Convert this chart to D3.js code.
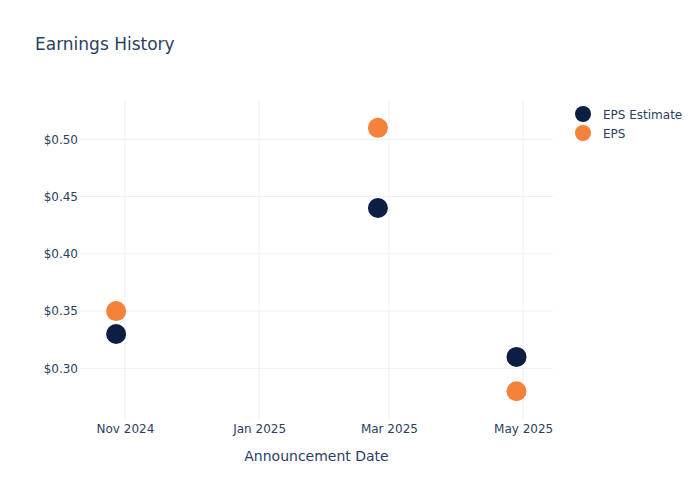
<!DOCTYPE html>
<html>
<head>
<meta charset="utf-8">
<script src="https://cdn.jsdelivr.net/npm/d3@7"></script>
<style>
  body { margin: 0; background: #fff; }
  svg { font-family: "DejaVu Sans", "Open Sans", sans-serif; }
</style>
</head>
<body>
<svg id="chart" width="700" height="500"></svg>
<script>
// announcement dates and EPS values
const dates = ["2024-10-28", "2025-02-24", "2025-04-28"];
const epsEstimate = [0.33, 0.44, 0.31];
const epsActual = [0.35, 0.51, 0.28];
const xTicks = ["2024-11-01", "2025-01-01", "2025-03-01", "2025-05-01"];
const yTicks = [0.30, 0.35, 0.40, 0.45, 0.50];
const seriesNames = ["EPS Estimate", "EPS"];
const seriesColors = ["#0c1f42", "#f5813a"];

const width = 700;
const height = 500;
const margin = { top: 100, right: 147, bottom: 80, left: 80 };
const textColor = "#2a3f5f";
const gridColor = "#ebf0f8";

const svg = d3.select("#chart");
const parse = d3.utcParse("%Y-%m-%d");

const xScale = d3.scaleUtc()
  .domain([Date.UTC(2024, 9, 11, 14), Date.UTC(2025, 4, 14, 14)])
  .range([margin.left, width - margin.right]);

const yScale = d3.scaleLinear()
  .domain([0.2549, 0.5343])
  .range([height - margin.bottom, margin.top]);

// grid lines
svg.append("g")
  .selectAll("line")
  .data(xTicks.map(parse))
  .enter()
  .append("line")
  .attr("x1", d => xScale(d))
  .attr("x2", d => xScale(d))
  .attr("y1", margin.top)
  .attr("y2", height - margin.bottom)
  .attr("stroke", gridColor)
  .attr("stroke-width", 1);

svg.append("g")
  .selectAll("line")
  .data(yTicks)
  .enter()
  .append("line")
  .attr("x1", margin.left)
  .attr("x2", width - margin.right)
  .attr("y1", d => yScale(d))
  .attr("y2", d => yScale(d))
  .attr("stroke", gridColor)
  .attr("stroke-width", 1);

// axes (labels only, no domain lines)
const xAxis = d3.axisBottom(xScale)
  .tickValues(xTicks.map(parse))
  .tickFormat(d3.utcFormat("%b %Y"))
  .tickSize(0)
  .tickPadding(4);

const gx = svg.append("g")
  .attr("transform", `translate(0, ${height - margin.bottom})`)
  .call(xAxis);
gx.select(".domain").remove();
gx.selectAll("text")
  .attr("fill", textColor)
  .style("font-size", "12px")
  .style("font-family", "'DejaVu Sans', sans-serif");

const yAxis = d3.axisLeft(yScale)
  .tickValues(yTicks)
  .tickFormat(d => `$${d.toFixed(2)}`)
  .tickSize(0)
  .tickPadding(2);

const gy = svg.append("g")
  .attr("transform", `translate(${margin.left}, 0)`)
  .call(yAxis);
gy.select(".domain").remove();
gy.selectAll("text")
  .attr("fill", textColor)
  .style("font-size", "12px")
  .style("font-family", "'DejaVu Sans', sans-serif");

// axis title
svg.append("text")
  .attr("x", (margin.left + width - margin.right) / 2)
  .attr("y", 461)
  .attr("text-anchor", "middle")
  .attr("fill", textColor)
  .style("font-size", "14px")
  .text("Announcement Date");

// chart title
svg.append("text")
  .attr("x", 35)
  .attr("y", 50)
  .attr("fill", textColor)
  .style("font-size", "17px")
  .text("Earnings History");

// markers
const series = [epsEstimate, epsActual];
series.forEach((values, s) => {
  svg.append("g")
    .selectAll("circle")
    .data(values)
    .enter()
    .append("circle")
    .attr("cx", (d, i) => xScale(parse(dates[i])))
    .attr("cy", d => yScale(d))
    .attr("r", 10)
    .attr("fill", seriesColors[s]);
});

// legend
const legend = svg.append("g")
  .attr("transform", "translate(583, 114)");

seriesNames.forEach((name, i) => {
  const row = legend.append("g")
    .attr("transform", `translate(0, ${i * 19})`);
  row.append("circle")
    .attr("r", 8)
    .attr("fill", seriesColors[i]);
  row.append("text")
    .attr("x", 20)
    .attr("y", 4.5)
    .attr("fill", textColor)
    .style("font-size", "12px")
    .text(name);
});
</script>
</body>
</html>
